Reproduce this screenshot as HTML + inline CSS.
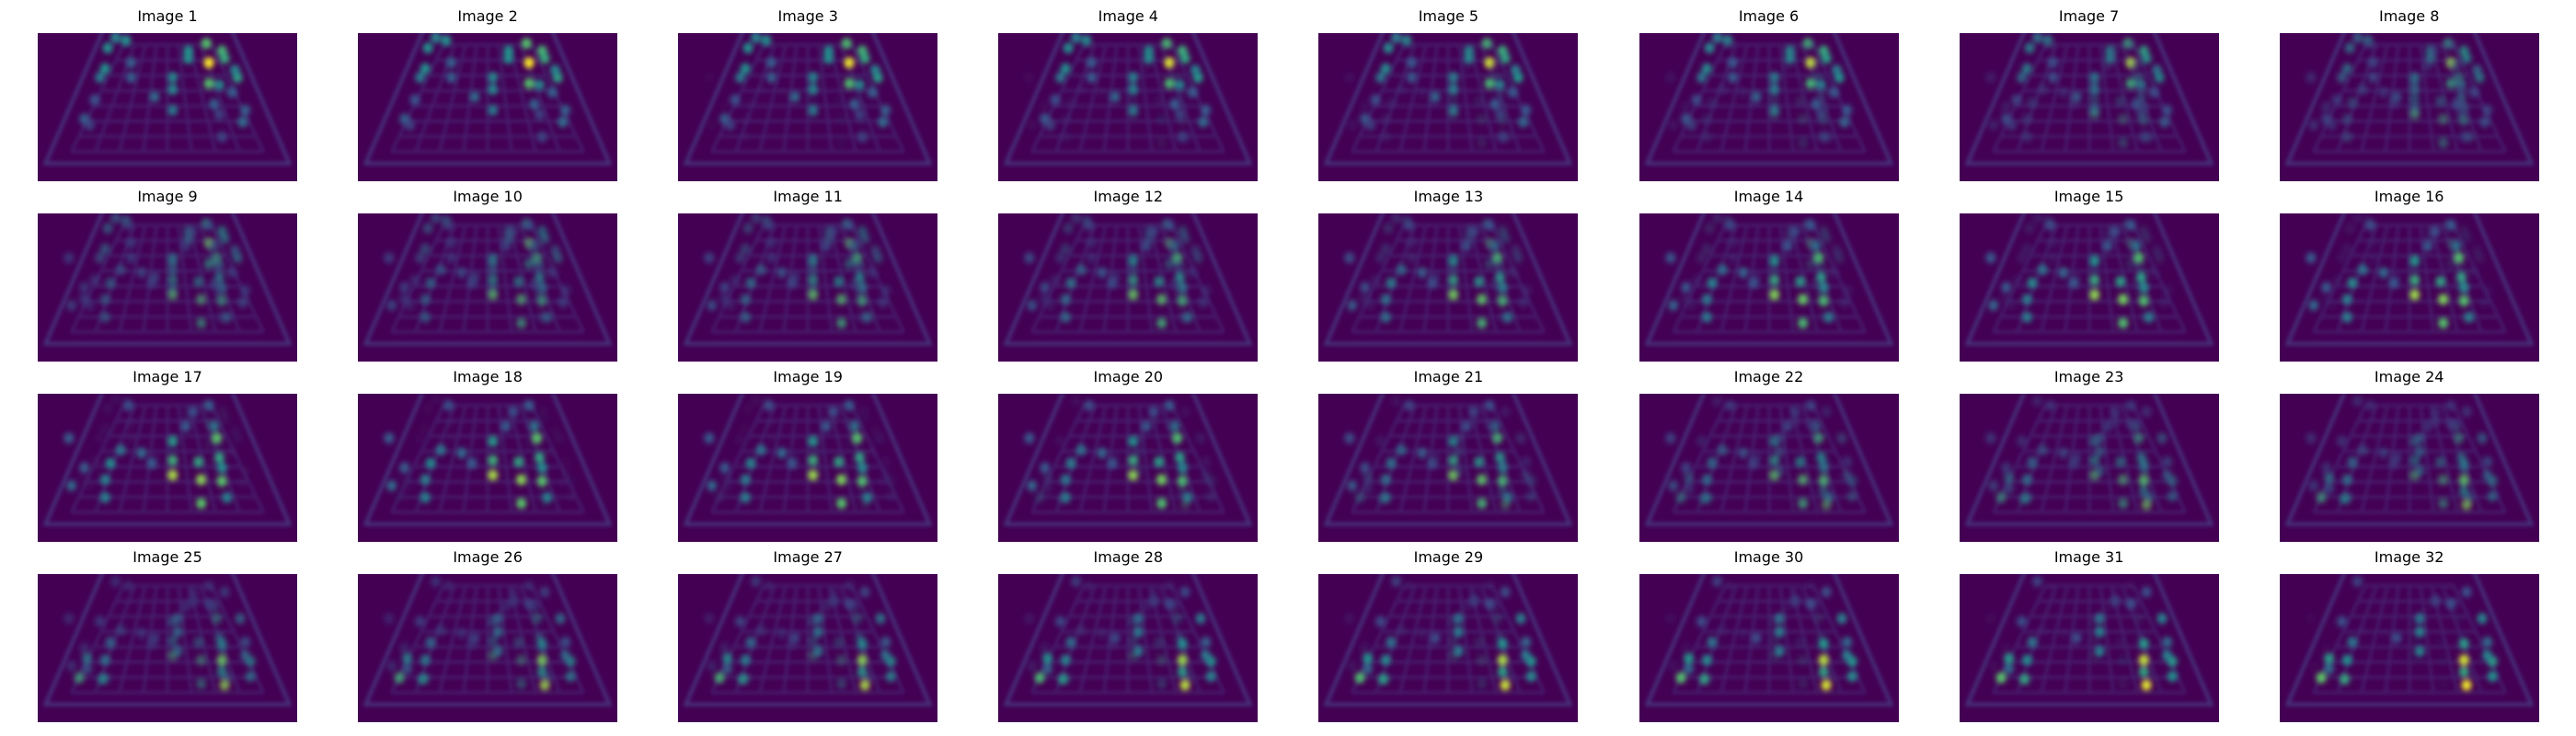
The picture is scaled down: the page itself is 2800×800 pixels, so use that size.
<!DOCTYPE html>
<html>
<head>
<meta charset="utf-8">
<style>
html,body{margin:0;padding:0;background:#fff;}
#fig{position:relative;width:2800px;height:800px;overflow:hidden;background:#fff;font-family:"DejaVu Sans","Liberation Sans",sans-serif;}
.title{position:absolute;font-size:16px;color:#000;text-align:center;width:282px;line-height:18px;}
.panel{position:absolute;width:282px;height:161px;display:block;}
</style>
</head>
<body>
<div id="fig"></div>
<script>
// Blob keyframes: [x, y, intensity] in panel-normalized coordinates
const blobsEarly = [
 [0.66,0.20,1.0],[0.65,0.07,0.7],[0.71,0.12,0.65],[0.72,0.17,0.6],[0.77,0.30,0.55],
 [0.66,0.34,0.7],[0.58,0.12,0.5],[0.58,0.17,0.5],[0.52,0.30,0.45],[0.52,0.38,0.45],
 [0.52,0.52,0.4],[0.27,0.10,0.5],[0.34,0.05,0.5],[0.26,0.24,0.5],[0.24,0.30,0.4],
 [0.45,0.43,0.35],[0.75,0.40,0.3],[0.79,0.60,0.35],[0.18,0.58,0.3],[0.68,0.48,0.3],
 [0.30,0.03,0.45],[0.36,0.20,0.3],[0.36,0.30,0.3],[0.22,0.45,0.25],[0.20,0.62,0.2],
 [0.70,0.55,0.2],[0.71,0.70,0.2],[0.80,0.52,0.3],[0.70,0.35,0.45],[0.76,0.25,0.45]
];
const blobsMid = [
 [0.52,0.32,0.55],[0.52,0.45,0.65],[0.52,0.55,0.9],[0.62,0.46,0.6],[0.63,0.58,0.85],
 [0.63,0.74,0.75],[0.69,0.30,0.75],[0.70,0.43,0.6],[0.71,0.59,0.75],[0.73,0.70,0.45],
 [0.40,0.40,0.35],[0.32,0.38,0.4],[0.28,0.47,0.5],[0.26,0.58,0.45],[0.26,0.70,0.45],
 [0.57,0.22,0.3],[0.12,0.30,0.3],[0.13,0.62,0.35],[0.68,0.22,0.4],[0.71,0.50,0.5],
 [0.60,0.12,0.25],[0.35,0.08,0.25],[0.44,0.47,0.3],[0.18,0.50,0.3],[0.66,0.08,0.3]
];
const blobsLate = [
 [0.16,0.70,0.75],[0.19,0.57,0.55],[0.25,0.71,0.6],[0.26,0.58,0.5],[0.28,0.46,0.4],
 [0.54,0.30,0.4],[0.54,0.39,0.45],[0.54,0.52,0.45],[0.71,0.47,0.55],[0.71,0.58,0.95],
 [0.72,0.75,1.0],[0.82,0.59,0.55],[0.82,0.69,0.5],[0.78,0.30,0.45],[0.71,0.66,0.6],
 [0.80,0.46,0.35],[0.45,0.43,0.25],[0.80,0.55,0.45],[0.19,0.64,0.35],[0.66,0.20,0.25],
 [0.72,0.12,0.25],[0.30,0.05,0.2],[0.24,0.32,0.25],[0.60,0.18,0.2]
];
// per-image keyframe weights (read from visual progression)
const weightEarly = [1,1,0.95,0.9,0.85,0.8,0.7,0.6,0.5,0.45,0.4,0.35,0.3,0.25,0.2,0.15,0.1,0.05,0.05,0,0,0,0,0,0,0,0,0,0,0,0,0];
const weightMid   = [0,0,0.05,0.1,0.15,0.2,0.3,0.4,0.5,0.55,0.6,0.65,0.7,0.75,0.8,0.85,0.9,0.9,0.85,0.8,0.7,0.6,0.5,0.45,0.4,0.35,0.3,0.25,0.2,0.15,0.1,0.05];
const weightLate  = [0,0,0,0,0,0,0,0,0,0,0,0,0,0,0,0,0,0.05,0.1,0.2,0.3,0.4,0.5,0.55,0.6,0.65,0.7,0.75,0.8,0.85,0.9,0.95];
const titles = [];
for (let i = 1; i <= 32; i++) titles.push('Image ' + i);

const VIR = [[68,1,84],[59,82,139],[33,145,140],[94,201,98],[253,231,37]];
function viridis(v){
  v=Math.max(0,Math.min(1,v));const s=v*(VIR.length-1);const i=Math.min(VIR.length-2,Math.floor(s));const f=s-i;
  const c=VIR[i].map((a,k)=>Math.round(a+(VIR[i+1][k]-a)*f));return 'rgb('+c.join(',')+')';
}
const W=282,H=161,X0=41,Y0=36,DX=348.1,DY=196;
const NS='http://www.w3.org/2000/svg';
const fig=document.getElementById('fig');
function mk(tag,attrs,parent){const e=document.createElementNS(NS,tag);for(const k in attrs)e.setAttribute(k,attrs[k]);parent.appendChild(e);return e;}

for(let n=0;n<32;n++){
  const c=n%8,r=Math.floor(n/8);
  const left=X0+c*DX, top=Y0+r*DY;
  const t=document.createElement('div');
  t.className='title';t.style.left=left+'px';t.style.top=(top-27)+'px';t.textContent=titles[n];
  
  
  fig.appendChild(t);
  const svg=document.createElementNS(NS,'svg');
  svg.setAttribute('class','panel');svg.setAttribute('width',W);svg.setAttribute('height',H);
  svg.setAttribute('viewBox','0 0 '+W+' '+H);
  svg.style.left=left+'px';svg.style.top=top+'px';
  
  
  fig.appendChild(svg);
  const defs=mk('defs',{},svg);
  const f=mk('filter',{id:'bl'+n,x:'-20%',y:'-20%',width:'140%',height:'140%'},defs);
  mk('feGaussianBlur',{stdDeviation:'3'},f);
  const f2=mk('filter',{id:'gl'+n,x:'-20%',y:'-20%',width:'140%',height:'140%'},defs);
  mk('feGaussianBlur',{stdDeviation:'2'},f2);
  mk('rect',{x:0,y:0,width:W,height:H,fill:'#440154'},svg);
  // trapezoid grid (top edge above panel)
  const g=mk('g',{filter:'url(#gl'+n+')',stroke:'#46206f',fill:'none','stroke-width':'2.6'},svg);
  const topY=-0.05*H,botY=0.88*H,tl=0.26,tr=0.74,bl=0.03,br=0.97;
  mk('polygon',{points:[tl*W,topY,bl*W,botY,br*W,botY,tr*W,topY].join(' '),stroke:'#46397f','stroke-width':'3.4'},g);
  const itl=0.33,itr=0.67,ibl=0.13,ibr=0.87,iby=0.80*H;
  for(let k=0;k<=8;k++){
    const a=k/8;const xt=(itl+(itr-itl)*a)*W,xb=(ibl+(ibr-ibl)*a)*W;
    mk('line',{x1:xt,y1:0.08*H,x2:xb,y2:iby},g);
  }
  for(let k=0;k<=7;k++){
    const a=k/7;const y=0.08*H+(iby-0.08*H)*a;
    const xl=(itl+(ibl-itl)*a)*W,xr=(itr+(ibr-itr)*a)*W;
    mk('line',{x1:xl,y1:y,x2:xr,y2:y},g);
  }
  const bg=mk('g',{filter:'url(#bl'+n+')'},svg);
  const sets=[[blobsEarly,weightEarly[n]],[blobsMid,weightMid[n]],[blobsLate,weightLate[n]]];
  sets.forEach(([arr,w])=>{
    if(w<=0)return;
    arr.forEach(b=>{
      const v=b[2]*(0.55+0.45*w);
      const e=mk('ellipse',{cx:b[0]*W,cy:b[1]*H,rx:5.5,ry:6,fill:viridis(v),opacity:Math.min(1,w*1.3)},bg);
      
      
    });
  });
}
</script>
</body>
</html>
